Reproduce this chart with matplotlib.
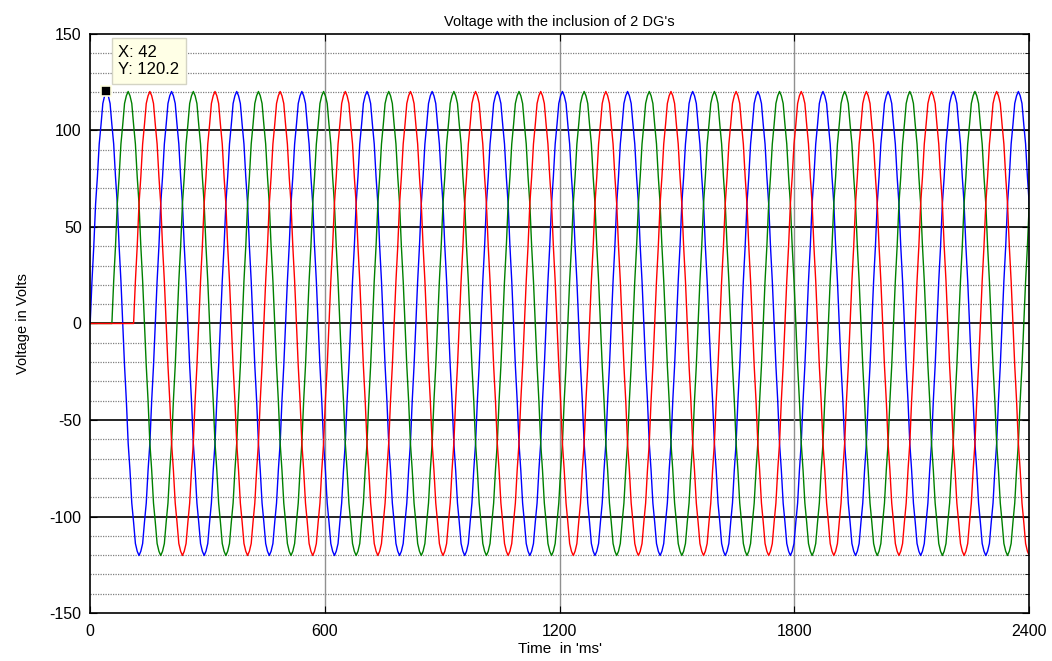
import numpy as np
import matplotlib.pyplot as plt

plt.rcParams['font.family'] = ['Liberation Sans', 'DejaVu Sans']
plt.rcParams['axes.unicode_minus'] = False

# one cycle of the phase voltage (10 deg steps from the rising zero)
cycle_shape = [0, 22, 40, 62, 76, 93, 103, 114, 118, 120.2, 118, 114, 103, 93, 76, 62, 40, 22,
               0, -22, -40, -62, -76, -93, -103, -114, -118, -120.2, -118, -114, -103, -93, -76, -62, -40, -22]
period_ms = 166.5
# first rising zero crossing of each phase and the time it is switched on
phase_names = ['blue', 'green', 'red']
phase_colors = ['#0000ff', '#008000', '#ff0000']
zero_cross_ms = [-166.2, 55.8, 111.3]
switch_on_ms = [0, 55.8, 111.3]

tip_x = 42
tip_y = 120.2

x_ticks = [0, 600, 1200, 1800, 2400]
y_ticks = [-150, -100, -50, 0, 50, 100, 150]


def phase_wave(t0, t_on, t_end=2400):
    dt = period_ms / len(cycle_shape)
    n_cycles = int(np.ceil((t_end - t0) / period_ms)) + 1
    t = t0 + np.arange(n_cycles * len(cycle_shape)) * dt
    v = np.tile(cycle_shape, n_cycles)
    keep = t >= t_on - 1e-6
    t, v = t[keep], v[keep]
    if t_on > 0:
        t = np.concatenate([[0, t_on], t])
        v = np.concatenate([[0, 0], v])
    return t, v


fig = plt.figure(figsize=(10.52, 6.61), dpi=100)
ax = fig.add_axes([0.0856, 0.0726, 0.8925, 0.876])

# grid: dotted every 10 V, solid black every 50 V, grey verticals at major x ticks
for yv in range(-140, 150, 10):
    if yv % 50 == 0:
        ax.axhline(yv, color='black', lw=1.2, zorder=1)
    else:
        ax.axhline(yv, color='#808080', lw=0.9, ls=(0, (1, 1)), zorder=1)
for xv in x_ticks[1:-1]:
    ax.axvline(xv, color='#909090', lw=1.0, zorder=1)

for name, col, t0, ton in zip(phase_names, phase_colors, zero_cross_ms, switch_on_ms):
    t, v = phase_wave(t0, ton)
    ax.plot(t, v, color=col, lw=1.0, zorder=2)

# data tip
ax.plot([tip_x], [tip_y], marker='s', ms=7.5, color='black', mec='#ffffe0', mew=1.2, zorder=5)
ax.text(72, 144.5, f"X: {tip_x}\nY: {tip_y}", fontsize=12, va='top', ha='left', linespacing=1.2,
        family=['Liberation Sans', 'DejaVu Sans'],
        bbox=dict(boxstyle='square,pad=0.4', fc='#ffffe6', ec='#d4d4c4', lw=1), zorder=6)

ax.set_xlim(0, 2400)
ax.set_ylim(-150, 150)
ax.set_xticks(x_ticks)
ax.set_yticks(y_ticks)
ax.set_yticks(range(-150, 151, 10), minor=True)
ax.tick_params(direction='in', which='both', top=True, right=True, labelsize=11.5, length=5)
ax.tick_params(axis='x', pad=8)
ax.tick_params(axis='y', pad=6)
ax.tick_params(which='minor', length=3, left=False)
for s in ax.spines.values():
    s.set_linewidth(1.2)

ax.set_title("Voltage with the inclusion of 2 DG's", fontsize=10.5, pad=6)
ax.set_xlabel("Time  in 'ms'", fontsize=11, labelpad=2)
ax.set_ylabel("Voltage in Volts", fontsize=10.5, labelpad=14)

fig.savefig('out.png', dpi=100)
